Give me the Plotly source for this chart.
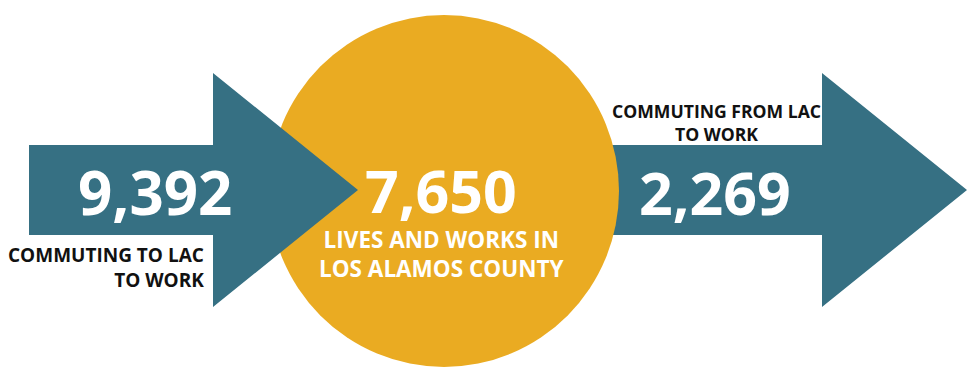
import plotly.graph_objects as go

# Commuting flows for Los Alamos County (LAC)
flow_values = [9392, 7650, 2269]
flow_labels = [
    "COMMUTING TO LAC<br>TO WORK",
    "LIVES AND WORKS IN<br>LOS ALAMOS COUNTY",
    "COMMUTING FROM LAC<br>TO WORK",
]

TEAL = "#367083"
GOLD = "#EAAB22"
W, H = 969, 369
FONT = "Open Sans"


def arrow_path(x0, x_neck, x_tip, y_mid, shaft_half, head_half):
    return (
        f"M {x0},{y_mid - shaft_half} L {x_neck},{y_mid - shaft_half} "
        f"L {x_neck},{y_mid - head_half} L {x_tip},{y_mid} "
        f"L {x_neck},{y_mid + head_half} L {x_neck},{y_mid + shaft_half} "
        f"L {x0},{y_mid + shaft_half} Z"
    )


shapes = [
    # outgoing arrow (sits behind the circle)
    dict(type="path", path=arrow_path(560, 822, 967, 190, 45, 117),
         fillcolor=TEAL, line=dict(width=0), layer="below"),
    # residents circle
    dict(type="circle", x0=269, x1=619, y0=15, y1=367,
         fillcolor=GOLD, line=dict(width=0), layer="below"),
    # incoming arrow (drawn over the circle)
    dict(type="path", path=arrow_path(29, 213, 358, 190, 45, 117),
         fillcolor=TEAL, line=dict(width=0), layer="below"),
]

fmt = [f"{v:,}" for v in flow_values]

annotations = [
    dict(x=155, y=192, text=fmt[0], showarrow=False, xanchor="center", yanchor="middle",
         font=dict(family=FONT, size=60, color="white", weight="bold")),
    dict(x=206, y=267, text=flow_labels[0], showarrow=False, xanchor="right", yanchor="middle",
         align="right", font=dict(family=FONT, size=19, color="#111111", weight="bold")),
    dict(x=441, y=190, text=fmt[1], showarrow=False, xanchor="center", yanchor="middle",
         font=dict(family=FONT, size=59, color="white", weight="bold")),
    dict(x=442, y=254, text=flow_labels[1], showarrow=False, xanchor="center", yanchor="middle",
         align="center", font=dict(family=FONT, size=22.5, color="white", weight="bold")),
    dict(x=715, y=192, text=fmt[2], showarrow=False, xanchor="center", yanchor="middle",
         font=dict(family=FONT, size=59, color="white", weight="bold")),
    dict(x=716, y=122, text=flow_labels[2], showarrow=False, xanchor="center", yanchor="middle",
         align="center", font=dict(family=FONT, size=17.6, color="#111111", weight="bold")),
]

fig = go.Figure()
fig.update_layout(
    width=W, height=H,
    margin=dict(l=0, r=0, t=0, b=0),
    paper_bgcolor="white", plot_bgcolor="white",
    xaxis=dict(range=[0, W], visible=False, fixedrange=True),
    yaxis=dict(range=[H, 0], visible=False, fixedrange=True),
    shapes=shapes, annotations=annotations, showlegend=False,
)

fig.write_html("out.html")
